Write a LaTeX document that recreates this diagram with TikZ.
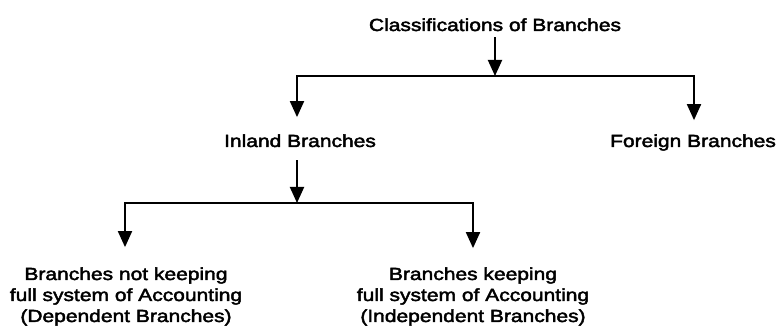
\documentclass[tikz,border=0pt]{standalone}
\usepackage{fontspec}
\setmainfont{Liberation Sans}[FakeStretch=1.2,FakeBold=2.5]
\usetikzlibrary{arrows.meta}
\begin{document}
\begin{tikzpicture}[x=1pt,y=1pt,
  lbl/.style={font=\fontsize{17.5}{21}\selectfont, inner sep=0pt, anchor=base, align=center},
  bar/.style={line width=2.6pt, line cap=rect},
  arr/.style={line width=1.9pt, -{Triangle[width=14pt,length=16pt]}},
]
\useasboundingbox (0,0) rectangle (779,326);

% labels (multi-line labels sit on the baseline of their last line)
\node[lbl] (title)   at (495,295) {Classifications of Branches};
\node[lbl] (inland)  at (300,179) {Inland Branches};
\node[lbl] (foreign) at (693,179) {Foreign Branches};
\node[lbl] (dep)     at (126,4)   {Branches not keeping\\full system of Accounting\\(Dependent Branches)};
\node[lbl] (indep)   at (473,4)   {Branches keeping\\full system of Accounting\\(Independent Branches)};

% junction points of the two horizontal bars
\coordinate (j1)  at (495,250);
\coordinate (b1l) at (297,250);
\coordinate (b1r) at (694,250);
\coordinate (j2)  at (297,123);
\coordinate (b2l) at (125,123);
\coordinate (b2r) at (473,123);

% first level
\draw[bar] (b1l) -- (b1r);
\draw[arr, shorten <=6pt] (title.south -| j1) -- (j1);
\draw[arr, shorten >=17pt] (b1l) -- (b1l |- inland.north);
\draw[arr, shorten >=14pt] (b1r) -- (b1r |- foreign.north);

% second level
\draw[bar] (b2l) -- (b2r);
\draw[arr, shorten <=13pt] (inland.south -| j2) -- (j2);
\draw[arr, shorten >=20pt] (b2l) -- (b2l |- dep.north);
\draw[arr, shorten >=19pt] (b2r) -- (b2r |- indep.north);
\end{tikzpicture}
\end{document}
